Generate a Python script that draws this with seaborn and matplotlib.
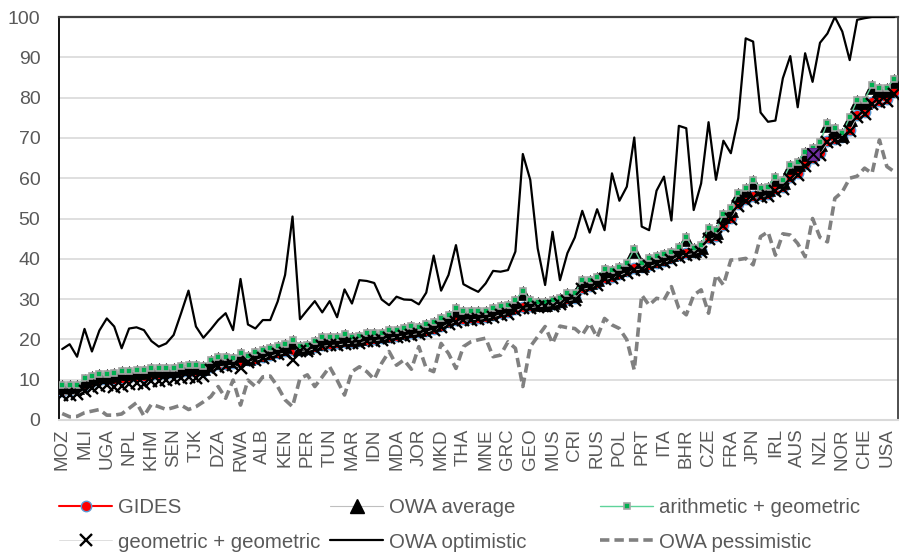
import numpy as np
import pandas as pd
import matplotlib
matplotlib.use("Agg")
import matplotlib.pyplot as plt
import seaborn as sns
from matplotlib.lines import Line2D

# ---------------- data ----------------
tick_labels = ['MOZ', 'MLI', 'UGA', 'NPL', 'KHM', 'SEN', 'TJK', 'DZA', 'RWA', 'ALB',
               'KEN', 'PER', 'TUN', 'MAR', 'IDN', 'MDA', 'JOR', 'MKD', 'THA', 'MNE',
               'GRC', 'GEO', 'MUS', 'CRI', 'RUS', 'POL', 'PRT', 'ITA', 'BHR', 'CZE',
               'FRA', 'JPN', 'IRL', 'AUS', 'NZL', 'NOR', 'CHE', 'USA']

gides = [7.2, 7.4, 7.6, 8.8, 9.4, 9.9, 10.0, 10.2, 10.5, 10.6,
         10.8, 10.9, 11.2, 11.3, 11.5, 11.6, 11.8, 12.0, 12.1, 12.2,
         13.2, 13.9, 14.0, 14.1, 14.7, 14.8, 15.2, 15.7, 16.2, 16.6,
         17.0, 17.3, 17.4, 17.6, 18.1, 18.7, 18.9, 19.0, 19.3, 19.4,
         19.6, 19.9, 20.1, 20.3, 20.7, 20.9, 21.3, 21.6, 21.8, 22.2,
         22.7, 23.4, 24.2, 24.8, 25.1, 25.3, 25.4, 25.6, 26.0, 26.5,
         26.8, 27.6, 28.1, 28.3, 28.5, 28.6, 28.8, 29.2, 30.0, 30.3,
         32.8, 33.2, 34.0, 35.3, 35.6, 36.3, 37.0, 37.6, 37.9, 38.5,
         39.0, 39.5, 40.1, 40.9, 41.4, 41.7, 42.2, 45.2, 45.7, 48.5,
         50.2, 53.5, 54.8, 55.6, 55.8, 56.1, 57.3, 57.8, 60.2, 61.3,
         63.5, 65.0, 66.2, 69.3, 69.8, 70.3, 72.0, 75.7, 76.4, 78.8,
         79.2, 79.6, 81.3]

owa_average = [8.2, 8.2, 8.2, 9.8, 10.4, 11.0, 11.0, 11.2, 11.6, 11.6,
               11.9, 11.9, 12.3, 12.3, 12.5, 12.5, 12.8, 13.1, 13.1, 12.8,
               14.3, 15.1, 15.1, 14.9, 16.1, 15.4, 16.3, 16.9, 17.4, 17.9,
               18.4, 19.4, 17.9, 18.2, 19.0, 20.0, 20.0, 20.0, 20.8, 20.0,
               20.3, 21.0, 21.2, 21.2, 21.8, 21.9, 22.4, 22.8, 22.7, 23.3,
               23.9, 24.7, 25.6, 27.2, 26.5, 26.5, 26.5, 26.6, 27.2, 27.8,
               28.0, 29.3, 31.5, 29.3, 28.9, 28.9, 29.4, 29.8, 30.9, 30.9,
               34.2, 34.2, 35.1, 36.9, 36.7, 37.5, 38.4, 41.9, 38.4, 39.6,
               40.2, 40.7, 41.3, 42.4, 44.8, 42.1, 42.9, 47.2, 46.6, 50.5,
               52.0, 55.9, 57.0, 59.1, 57.0, 57.4, 59.9, 59.1, 62.8, 63.6,
               66.1, 67.0, 68.6, 73.3, 71.9, 70.6, 74.6, 78.9, 79.0, 82.6,
               82.0, 82.0, 84.0]

arith_geom = [8.7, 8.7, 8.7, 10.3, 10.9, 11.5, 11.5, 11.7, 12.1, 12.1,
              12.4, 12.4, 12.8, 12.8, 13.0, 13.0, 13.3, 13.6, 13.6, 13.3,
              14.8, 15.6, 15.6, 15.4, 16.6, 15.9, 16.8, 17.4, 17.9, 18.4,
              18.9, 19.9, 18.4, 18.7, 19.5, 20.5, 20.5, 20.5, 21.3, 20.5,
              20.8, 21.5, 21.7, 21.7, 22.3, 22.4, 22.9, 23.3, 23.2, 23.8,
              24.4, 25.2, 26.1, 27.7, 27.0, 27.0, 27.0, 27.1, 27.7, 28.3,
              28.5, 29.8, 32.0, 29.8, 29.4, 29.4, 29.9, 30.3, 31.4, 31.4,
              34.7, 34.7, 35.6, 37.4, 37.2, 38.0, 38.9, 42.4, 38.9, 40.1,
              40.7, 41.2, 41.8, 42.9, 45.3, 42.6, 43.4, 47.7, 47.1, 51.0,
              52.5, 56.4, 57.5, 59.6, 57.5, 57.9, 60.4, 59.6, 63.3, 64.1,
              66.6, 67.5, 69.1, 73.8, 72.4, 71.1, 75.1, 79.4, 79.5, 83.1,
              82.5, 82.5, 84.5]

geom_geom = [6.3, 6.2, 6.5, 7.3, 8.0, 8.4, 8.6, 8.3, 8.4, 9.0,
             9.3, 8.9, 9.6, 9.8, 10.0, 10.2, 10.4, 10.6, 10.5, 10.9,
             12.4, 13.2, 13.4, 13.6, 13.0, 14.3, 14.8, 15.3, 15.9, 16.3,
             16.6, 14.9, 17.0, 17.2, 17.7, 18.3, 18.5, 18.6, 18.9, 19.0,
             19.2, 19.5, 19.7, 19.9, 20.3, 20.5, 20.9, 21.2, 21.4, 21.8,
             22.3, 23.0, 23.8, 24.4, 24.7, 24.9, 25.0, 25.2, 25.6, 26.1,
             26.4, 27.2, 27.7, 27.9, 28.1, 28.2, 28.4, 28.8, 29.6, 29.9,
             32.4, 32.8, 33.6, 34.9, 35.2, 35.9, 36.6, 37.2, 37.5, 38.1,
             38.6, 39.1, 39.7, 40.5, 41.0, 41.3, 41.8, 44.8, 45.3, 48.1,
             49.8, 53.1, 54.4, 55.2, 55.4, 55.7, 56.9, 57.4, 59.8, 60.9,
             63.1, 64.6, 65.8, 68.9, 69.4, 69.9, 71.6, 75.3, 76.0, 78.4,
             78.8, 79.2, 80.9]

owa_optimistic = [17.6, 18.8, 15.7, 22.6, 17.0, 22.2, 25.2, 23.2, 17.8, 22.7,
                  23.0, 22.3, 19.6, 18.2, 19.0, 21.1, 26.5, 32.1, 23.2, 20.4,
                  22.5, 24.8, 26.5, 22.3, 35.0, 23.7, 22.7, 24.8, 24.8, 29.4,
                  36.0, 50.5, 25.0, 27.3, 29.5, 26.7, 29.5, 25.5, 32.4, 28.9,
                  34.7, 34.5, 34.0, 29.9, 28.5, 30.6, 29.9, 29.8, 28.7, 31.6,
                  40.8, 32.1, 36.0, 43.4, 33.7, 32.7, 31.8, 33.9, 37.0, 36.8,
                  37.2, 41.8, 66.0, 59.6, 42.6, 33.5, 46.7, 34.7, 41.4, 45.3,
                  51.9, 46.5, 52.3, 47.1, 61.2, 54.4, 57.9, 70.1, 48.0, 47.1,
                  56.9, 60.4, 49.5, 73.0, 72.4, 52.1, 58.7, 73.9, 59.6, 69.3,
                  66.2, 74.9, 94.7, 93.9, 76.3, 74.0, 74.3, 84.8, 90.3, 77.6,
                  91.0, 83.9, 93.6, 95.9, 100.0, 96.4, 89.3, 99.3, 99.7, 100.0,
                  100.0, 100.0, 100.0]

owa_pessimistic = [1.6, 0.8, 0.9, 1.8, 2.2, 2.6, 1.2, 1.2, 1.5, 2.9,
                   4.3, 1.0, 3.9, 3.3, 2.6, 3.1, 3.7, 2.6, 3.3, 4.5,
                   5.8, 8.3, 5.4, 9.9, 3.7, 9.9, 8.3, 10.7, 10.9, 8.3,
                   5.0, 3.3, 10.3, 11.2, 8.3, 10.7, 13.2, 9.9, 6.2, 12.0,
                   13.2, 12.0, 10.1, 14.1, 17.0, 13.6, 14.9, 12.6, 18.2, 12.8,
                   12.0, 19.0, 16.5, 12.8, 18.2, 19.4, 19.9, 20.3, 15.7, 16.1,
                   19.4, 17.8, 8.3, 18.2, 20.7, 23.2, 19.0, 23.3, 22.9, 22.7,
                   21.1, 24.0, 20.5, 25.2, 23.6, 22.7, 19.9, 12.4, 31.0, 28.5,
                   30.2, 29.8, 33.1, 27.7, 26.1, 31.0, 32.3, 26.5, 36.0, 33.5,
                   39.7, 39.8, 40.1, 38.5, 45.5, 46.7, 40.9, 46.2, 45.9, 43.8,
                   40.5, 50.0, 45.3, 44.2, 55.0, 56.6, 60.0, 60.5, 62.5, 61.2,
                   69.5, 62.9, 61.6]

highlight_index = [101]
highlight_value = [66.0]

# ---------------- figure ----------------
sns.set_theme(style="white")
plt.rcParams['font.family'] = ['Liberation Sans', 'DejaVu Sans']

pos = np.arange(len(gides))
df = pd.DataFrame({
    'pos': pos,
    'GIDES': gides,
    'OWA average': owa_average,
    'arithmetic + geometric': arith_geom,
    'geometric + geometric': geom_geom,
    'OWA optimistic': owa_optimistic,
    'OWA pessimistic': owa_pessimistic,
})

fig = plt.figure(figsize=(9, 5.52), dpi=100)
ax = fig.add_axes([58.5 / 900, 1 - 420 / 552, (898 - 58.5) / 900, (420 - 17) / 552])

for yv in range(10, 100, 10):
    ax.axhline(yv, color='#d9d9d9', lw=1.2, zorder=0)

common = dict(x='pos', data=df, ax=ax, estimator=None, sort=False, legend=False)

sns.lineplot(y='GIDES', color='#ff0000', lw=1.5, marker='o', markersize=7.5,
             markerfacecolor='#ff0000', markeredgecolor='#5b9bd5', markeredgewidth=1.0,
             zorder=3, **common)
sns.lineplot(y='OWA average', color='#bfbfbf', lw=0.8, marker='^', markersize=10,
             markerfacecolor='#000000', markeredgecolor='#000000', markeredgewidth=0.5,
             zorder=4, **common)
sns.lineplot(y='arithmetic + geometric', color='#5fd39a', lw=1.0, marker='s', markersize=4.5,
             markerfacecolor='#00b050', markeredgecolor='#a5a5a5', markeredgewidth=1.2,
             zorder=5, **common)
sns.lineplot(y='geometric + geometric', color='#d9d9d9', lw=0.6, marker='x', markersize=8.5,
             markeredgecolor='#000000', markeredgewidth=1.7,
             zorder=6, **common)
sns.lineplot(y='OWA optimistic', color='#000000', lw=1.6, zorder=7, **common)
sns.lineplot(y='OWA pessimistic', color='#808080', lw=2.6, dashes=False, zorder=7,
             linestyle=(0, (2.6, 1.4)), **common)

# highlighted point
sns.scatterplot(x=highlight_index, y=highlight_value, ax=ax, marker='s', s=75,
                color='#7030a0', edgecolor='#5a2680', zorder=8, legend=False)
sns.scatterplot(x=highlight_index, y=highlight_value, ax=ax, marker='x', s=80,
                color='#000000', linewidth=1.4, zorder=9, legend=False)

ax.set_xlim(-0.5, len(gides) - 0.5)
ax.set_ylim(0, 100)
ax.set_yticks(range(0, 101, 10))
ax.set_xticks(pos[::3][:len(tick_labels)])
ax.set_xticklabels(tick_labels, rotation=90)
ax.tick_params(axis='both', length=0, labelcolor='#595959')
ax.tick_params(axis='x', labelsize=13.5, pad=6)
ax.tick_params(axis='y', labelsize=14, pad=13)
ax.set_xlabel('')
ax.set_ylabel('')

ax.spines['left'].set_color('#000000')
ax.spines['left'].set_linewidth(1.3)
ax.spines['top'].set_color('#404040')
ax.spines['top'].set_linewidth(1.6)
ax.spines['right'].set_color('#404040')
ax.spines['right'].set_linewidth(1.3)
ax.spines['bottom'].set_color('#d9d9d9')
ax.spines['bottom'].set_linewidth(1.5)

# ---------------- legend (3 columns x 2 rows) ----------------
h_gides = Line2D([], [], color='#ff0000', lw=1.5, marker='o', markersize=7.5,
                 markerfacecolor='#ff0000', markeredgecolor='#5b9bd5')
h_avg = Line2D([], [], color='#bfbfbf', lw=0.8, marker='^', markersize=10,
               markerfacecolor='#000000', markeredgecolor='#000000')
h_ag = Line2D([], [], color='#5fd39a', lw=1.0, marker='s', markersize=5,
              markerfacecolor='#00b050', markeredgecolor='#a5a5a5', markeredgewidth=1.2)
h_gg = Line2D([], [], color='#d9d9d9', lw=0.6, marker='x', markersize=8.5,
              markeredgecolor='#000000', markeredgewidth=1.7)
h_opt = Line2D([], [], color='#000000', lw=1.6)
h_pes = Line2D([], [], color='#808080', lw=2.6, linestyle=(0, (2.6, 1.4)))

columns = [
    (59, [h_gides, h_gg], ['GIDES', 'geometric + geometric']),
    (330, [h_avg, h_opt], ['OWA average', 'OWA optimistic']),
    (600, [h_ag, h_pes], ['arithmetic + geometric', 'OWA pessimistic']),
]
for xpx, hs, ls in columns:
    leg = fig.legend(hs, ls, loc='upper left', bbox_to_anchor=(xpx / 900, 1 - 498 / 552),
                     frameon=False, fontsize=14.7, handlelength=2.6, handletextpad=0.3,
                     borderpad=0, borderaxespad=0, labelspacing=0.76)
    for t in leg.get_texts():
        t.set_color('#595959')

fig.savefig('out.png', dpi=100)
